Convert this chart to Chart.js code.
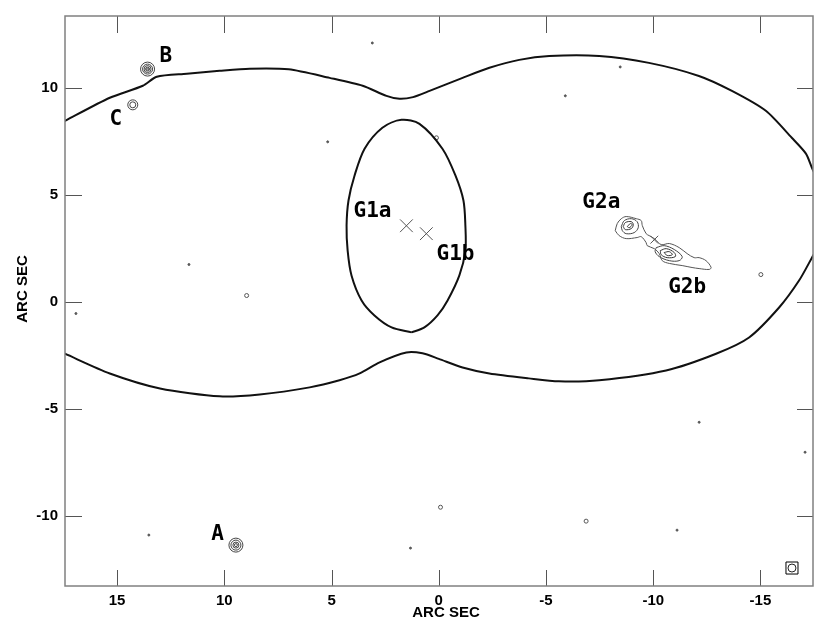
<!DOCTYPE html>
<html><head><meta charset="utf-8">
<script src="https://cdn.jsdelivr.net/npm/chart.js@4/dist/chart.umd.min.js"></script>
<style>html,body{margin:0;padding:0;background:#fff;}#wrap{width:830px;height:631px;}</style>
</head><body><div id="wrap"><canvas id="c" width="830" height="631"></canvas></div>
<script>
// ---- axis ticks ----
const xTicks = [15, 10, 5, 0, -5, -10, -15];
const yTicks = [10, 5, 0, -5, -10];
const xRange = [-17.45, 17.43];
const yRange = [-13.26, 13.37];

// ---- outer critical curve (top edge, right cap, bottom edge) ----
const outerX = [17.9, 17.43, 15.34, 13.80, 13.15, 11.75, 10.22, 8.82, 7.0, 5.09, 3.55, 2.44, 1.83, 1.2, 0.43, -1.11, -2.36, -3.75, -5.15, -7.48, -9.8, -12.13, -13.67, -15.25, -16.46, -17.12, -17.40, -17.85, -18.15, -17.9, -17.4, -16.8, -15.87, -14.47, -12.93, -10.6, -7.48, -5.6, -4.2, -2.36, -1.11, 0.0, 0.76, 1.51, 2.76, 3.69, 4.63, 6.02, 8.35, 10.22, 13.0, 15.34, 17.43, 17.9];
const outerY = [8.22, 8.47, 9.55, 10.11, 10.53, 10.67, 10.81, 10.91, 10.88, 10.48, 10.11, 9.64, 9.50, 9.58, 9.87, 10.48, 10.95, 11.32, 11.5, 11.5, 11.18, 10.57, 9.87, 8.94, 7.68, 6.94, 6.28, 5.3, 4.2, 3.0, 2.08, 1.01, -0.25, -1.65, -2.41, -3.19, -3.65, -3.70, -3.56, -3.33, -3.05, -2.65, -2.39, -2.35, -2.81, -3.33, -3.65, -3.98, -4.31, -4.40, -4.03, -3.33, -2.41, -2.2];

// ---- inner critical curve (closed lens) ----
const innerX = [1.27, 2.20, 3.0, 3.60, 4.07, 4.25, 4.30, 4.21, 3.93, 3.46, 2.63, 1.74, 0.90, -0.17, -0.78, -1.15, -1.24, -1.24, -0.96, -0.41, 0.06, 0.67, 1.27];
const innerY = [-1.41, -1.18, -0.62, 0.08, 1.25, 2.41, 3.58, 4.75, 5.91, 7.17, 8.15, 8.52, 8.33, 7.17, 5.91, 4.75, 3.58, 2.41, 1.25, 0.08, -0.62, -1.18, -1.41];

// ---- G2 radio contours ----
const g2OuterX = [-8.23, -8.41, -8.74, -9.25, -9.44, -9.67, -9.72, -10.05, -10.28, -10.42, -10.75, -11.35, -11.81, -12.14, -12.61, -12.70, -12.46, -12.14, -11.91, -11.58, -11.21, -10.75, -10.37, -10.05, -9.81, -9.67, -9.49, -9.44, -9.21, -8.74, -8.51, -8.32, -8.23];
const g2OuterY = [3.34, 3.11, 2.97, 3.02, 3.06, 2.78, 2.64, 2.50, 2.27, 1.94, 1.81, 1.71, 1.62, 1.57, 1.53, 1.62, 1.94, 2.08, 2.08, 2.27, 2.55, 2.74, 2.69, 2.97, 3.11, 3.20, 3.58, 3.81, 3.90, 4.00, 3.90, 3.67, 3.34];
const g2aRing2X = [-8.51, -8.65, -8.98, -9.25, -9.30, -9.11, -8.74, -8.56, -8.51];
const g2aRing2Y = [3.53, 3.81, 3.90, 3.76, 3.48, 3.25, 3.20, 3.34, 3.53];
const g2aRing3X = [-8.60, -8.70, -8.98, -9.07, -8.98, -8.70, -8.60];
const g2aRing3Y = [3.53, 3.72, 3.76, 3.62, 3.44, 3.39, 3.53];
const g2aRing4X = [-8.79, -8.93, -9.02, -8.88, -8.79];
const g2aRing4Y = [3.53, 3.67, 3.62, 3.48, 3.53];
const g2bRing2X = [-10.14, -10.51, -10.98, -11.35, -11.21, -10.75, -10.28, -10.09, -10.14];
const g2bRing2Y = [2.55, 2.64, 2.46, 2.13, 1.94, 1.94, 2.13, 2.36, 2.55];
const g2bRing3X = [-10.33, -10.61, -10.98, -11.03, -10.65, -10.37, -10.33];
const g2bRing3Y = [2.41, 2.50, 2.32, 2.13, 2.08, 2.22, 2.41];
const g2bRing4X = [-10.51, -10.75, -10.89, -10.65, -10.51];
const g2bRing4Y = [2.32, 2.36, 2.22, 2.18, 2.32];

// ---- compact sources (centres) and contour ring sizes ----
const srcX = [13.58, 14.27, 9.46];
const srcY = [10.89, 9.22, -11.35];
const srcRings = [[7, 5, 3.5, 2, 1], [5, 3], [7, 5, 3, 1.5]];

// ---- faint specks ----
const speckX = [3.10, 5.18, 0.11, 11.65, 8.96, 16.92, -5.90, -8.46, -15.02, -12.14, -17.08, -0.08, -6.87, -11.11, 13.52, 1.32];
const speckY = [12.11, 7.49, 7.68, 1.76, 0.31, -0.53, 9.64, 10.99, 1.29, -5.61, -7.01, -9.58, -10.23, -10.65, -10.88, -11.49];
const speckOpen = [false, false, true, false, true, false, false, false, true, false, false, true, true, false, false, false];

// ---- galaxy positions (crosses) ----
const crossX = [1.51, 0.58, -10.05];
const crossY = [3.57, 3.20, 2.92];
const crossSize = [9, 9, 5.5];

// ---- beam ----
const beamX = [-16.47];
const beamY = [-12.42];

// ---- labels ----
const labelText = ['B', 'C', 'A', 'G1a', 'G1b', 'G2a', 'G2b'];
const labelX = [12.73, 15.06, 10.31, 3.09, -0.78, -7.58, -11.58];
const labelY = [11.50, 8.57, -10.79, 4.28, 2.27, 4.70, 0.73];

const pts = (xs, ys) => xs.map((x, i) => ({x: x, y: ys[i]}));

function contour(xs, ys, color) {
  return {type: 'line', data: pts(xs, ys), borderColor: color, borderWidth: 1, pointRadius: 0, tension: 0.35, fill: false, clip: 0};
}

const ringPts = [], ringR = [];
srcRings.forEach((rs, i) => rs.forEach(r => { ringPts.push({x: srcX[i], y: srcY[i]}); ringR.push(r); }));

const datasets = [
  {type: 'line', data: pts(outerX, outerY), borderColor: '#111', borderWidth: 2, pointRadius: 0, tension: 0.25, fill: false, clip: 0},
  {type: 'line', data: pts(innerX, innerY), borderColor: '#111', borderWidth: 2, pointRadius: 0, tension: 0.3, fill: false, clip: 0},
  contour(g2OuterX, g2OuterY, '#555'),
  contour(g2aRing2X, g2aRing2Y, '#444'),
  contour(g2aRing3X, g2aRing3Y, '#333'),
  contour(g2aRing4X, g2aRing4Y, '#333'),
  contour(g2bRing2X, g2bRing2Y, '#444'),
  contour(g2bRing3X, g2bRing3Y, '#333'),
  contour(g2bRing4X, g2bRing4Y, '#333'),
  {type: 'scatter', data: ringPts, pointRadius: ringR, pointStyle: 'circle', backgroundColor: 'rgba(0,0,0,0)', borderColor: '#444', borderWidth: 1, pointHoverRadius: ringR},
  {type: 'scatter', data: pts(speckX, speckY), pointRadius: speckOpen.map(o => o ? 2 : 1),
    backgroundColor: speckOpen.map(o => o ? 'rgba(0,0,0,0)' : '#555'), borderColor: '#555', borderWidth: 1},
  {type: 'scatter', data: pts(crossX, crossY), pointStyle: 'crossRot', pointRadius: crossSize, borderColor: '#555', borderWidth: 1},
  {type: 'scatter', data: pts(beamX, beamY), pointStyle: 'rect', pointRadius: 8.5, backgroundColor: 'rgba(0,0,0,0)', borderColor: '#000', borderWidth: 1},
  {type: 'scatter', data: pts(beamX, beamY), pointStyle: 'circle', pointRadius: 4, backgroundColor: 'rgba(0,0,0,0)', borderColor: '#222', borderWidth: 1}
];

const decor = {
  id: 'decor',
  afterDatasetsDraw(chart) {
    const ctx = chart.ctx, a = chart.chartArea, xs = chart.scales.x, ys = chart.scales.y;
    ctx.save();
    ctx.strokeStyle = '#555'; ctx.lineWidth = 1;
    ctx.beginPath();
    xTicks.forEach(v => {
      const p = Math.round(xs.getPixelForValue(v)) + 0.5;
      ctx.moveTo(p, a.bottom); ctx.lineTo(p, a.bottom - 16);
      ctx.moveTo(p, a.top); ctx.lineTo(p, a.top + 17);
    });
    yTicks.forEach(v => {
      const p = Math.round(ys.getPixelForValue(v)) + 0.5;
      ctx.moveTo(a.left, p); ctx.lineTo(a.left + 17, p);
      ctx.moveTo(a.right, p); ctx.lineTo(a.right - 16, p);
    });
    ctx.stroke();
    ctx.strokeStyle = '#808080'; ctx.lineWidth = 1.5;
    ctx.strokeRect(a.left, a.top, a.right - a.left, a.bottom - a.top);
    ctx.fillStyle = '#000';
    ctx.font = 'bold 21px "DejaVu Sans Mono"';
    ctx.textAlign = 'center'; ctx.textBaseline = 'middle';
    labelText.forEach((t, i) => ctx.fillText(t, xs.getPixelForValue(labelX[i]), ys.getPixelForValue(labelY[i]) + 1));
    ctx.font = 'bold 15px "Liberation Sans"';
    ctx.fillText('ARC SEC', (a.left + a.right) / 2 + 7, a.bottom + 27);
    ctx.translate(23, (a.top + a.bottom) / 2 - 12);
    ctx.rotate(-Math.PI / 2);
    ctx.fillText('ARC SEC', 0, 0);
    ctx.restore();
  }
};

new Chart(document.getElementById('c'), {
  type: 'scatter',
  data: {datasets: datasets},
  options: {
    responsive: false,
    animation: false,
    devicePixelRatio: 1,
    layout: {padding: {left: 0, top: 15, right: 17, bottom: 0}},
    plugins: {legend: {display: false}, tooltip: {enabled: false}},
    scales: {
      x: {
        type: 'linear', reverse: true, min: xRange[0], max: xRange[1],
        afterBuildTicks: s => { s.ticks = xTicks.map(v => ({value: v})); },
        afterFit: s => { s.height = 45; },
        grid: {display: false, drawTicks: false},
        border: {display: false},
        ticks: {padding: 6, color: '#000', font: {family: 'Liberation Sans', size: 15, weight: 'bold'}, maxRotation: 0, callback: v => String(v)}
      },
      y: {
        type: 'linear', min: yRange[0], max: yRange[1],
        afterBuildTicks: s => { s.ticks = yTicks.map(v => ({value: v})); },
        afterFit: s => { s.width = 65; },
        grid: {display: false, drawTicks: false},
        border: {display: false},
        ticks: {padding: 7, color: '#000', font: {family: 'Liberation Sans', size: 15, weight: 'bold'}, callback: v => String(v)}
      }
    }
  },
  plugins: [decor]
});
</script></body></html>
